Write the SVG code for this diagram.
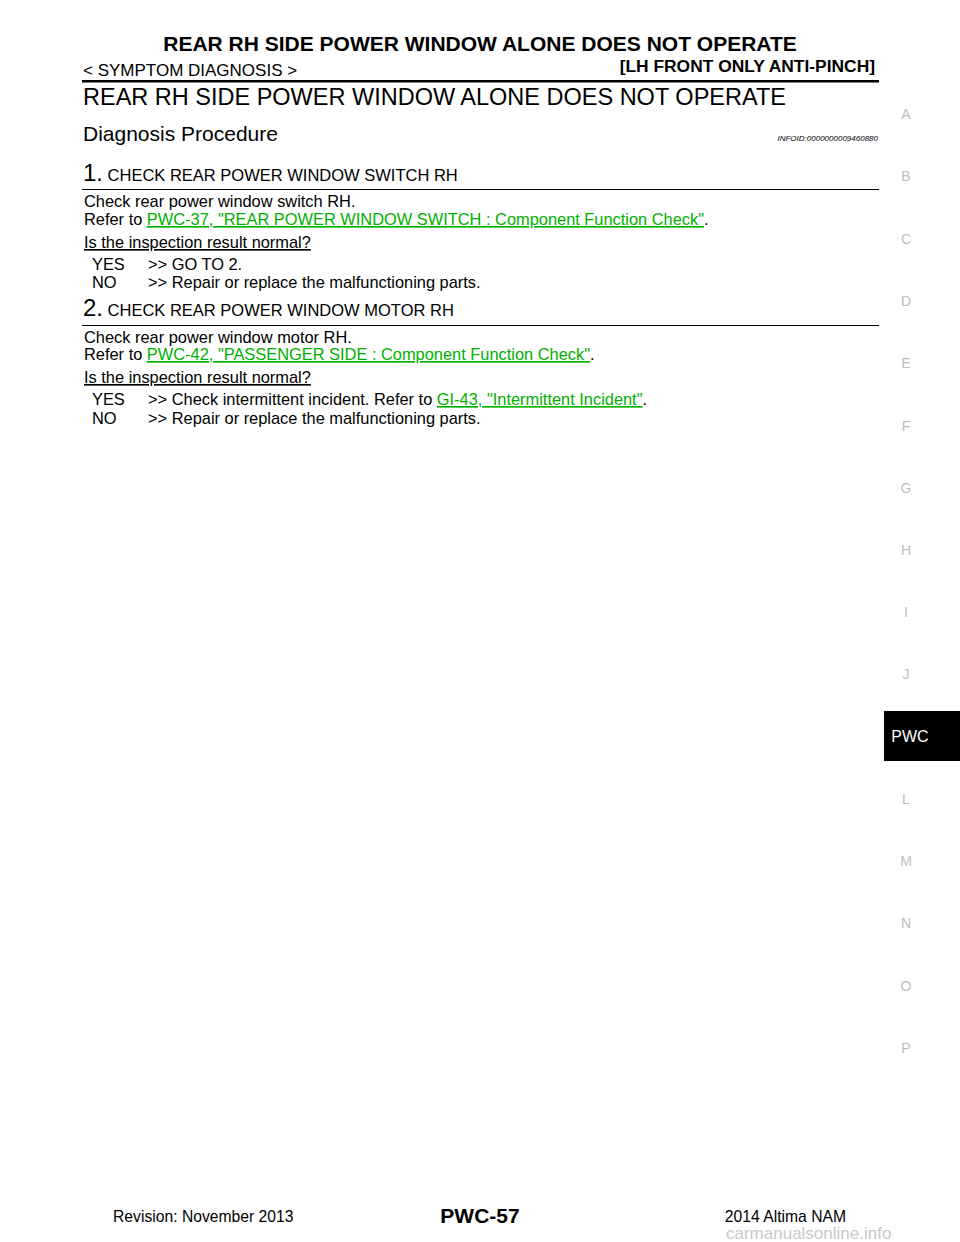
<svg xmlns="http://www.w3.org/2000/svg" width="960" height="1242" viewBox="0 0 960 1242">
<style>
text{font-family:"Liberation Sans",Arial,sans-serif;fill:#000}
.b{font-weight:bold}
.t{font-size:16.4px}
.l{fill:#00b000;text-decoration:underline}
.u{text-decoration:underline}
.side{font-size:14px;fill:#bdbdbd}
</style>
<rect width="960" height="1242" fill="#fff"/>
<g id="header">
<text x="480" y="51" text-anchor="middle" class="b" font-size="21">REAR RH SIDE POWER WINDOW ALONE DOES NOT OPERATE</text>
<text x="83" y="76" font-size="17">&lt; SYMPTOM DIAGNOSIS &gt;</text>
<text x="875" y="72" text-anchor="end" class="b" font-size="17.4">[LH FRONT ONLY ANTI-PINCH]</text>
<rect x="82" y="80" width="797" height="2.5" fill="#000"/>
<text x="83" y="105" font-size="23.5">REAR RH SIDE POWER WINDOW ALONE DOES NOT OPERATE</text>
<text x="83" y="141" font-size="21">Diagnosis Procedure</text>
<text x="878" y="141" text-anchor="end" font-size="8" font-style="italic">INFOID:0000000009460880</text>
</g>
<g id="step1">
<text x="83" y="181"><tspan font-size="24">1.</tspan><tspan font-size="16.5"> CHECK REAR POWER WINDOW SWITCH RH</tspan></text>
<rect x="82" y="189" width="797" height="1" fill="#000"/>
<text x="84" y="207" class="t">Check rear power window switch RH.</text>
<text x="84" y="225" class="t">Refer to <tspan class="l">PWC-37, "REAR POWER WINDOW SWITCH : Component Function Check"</tspan>.</text>
<text x="84" y="248" class="t u">Is the inspection result normal?</text>
<text x="92" y="270" class="t">YES</text><text x="148" y="270" class="t">&gt;&gt; GO TO 2.</text>
<text x="92" y="288" class="t">NO</text><text x="148" y="288" class="t">&gt;&gt; Repair or replace the malfunctioning parts.</text>
</g>
<g id="step2">
<text x="83" y="316"><tspan font-size="24">2.</tspan><tspan font-size="16.5"> CHECK REAR POWER WINDOW MOTOR RH</tspan></text>
<rect x="82" y="325" width="797" height="1" fill="#000"/>
<text x="84" y="343" class="t">Check rear power window motor RH.</text>
<text x="84" y="360" class="t">Refer to <tspan class="l">PWC-42, "PASSENGER SIDE : Component Function Check"</tspan>.</text>
<text x="84" y="383" class="t u">Is the inspection result normal?</text>
<text x="92" y="405" class="t">YES</text><text x="148" y="405" class="t">&gt;&gt; Check intermittent incident. Refer to <tspan class="l">GI-43, "Intermittent Incident"</tspan>.</text>
<text x="92" y="424" class="t">NO</text><text x="148" y="424" class="t">&gt;&gt; Repair or replace the malfunctioning parts.</text>
</g>
<g id="sidebar">
<text x="906" y="119" text-anchor="middle" class="side">A</text>
<text x="906" y="181" text-anchor="middle" class="side">B</text>
<text x="906" y="244" text-anchor="middle" class="side">C</text>
<text x="906" y="306" text-anchor="middle" class="side">D</text>
<text x="906" y="368" text-anchor="middle" class="side">E</text>
<text x="906" y="431" text-anchor="middle" class="side">F</text>
<text x="906" y="493" text-anchor="middle" class="side">G</text>
<text x="906" y="555" text-anchor="middle" class="side">H</text>
<text x="906" y="617" text-anchor="middle" class="side">I</text>
<text x="906" y="679" text-anchor="middle" class="side">J</text>
<rect x="884" y="711" width="76" height="50" fill="#000"/>
<text x="910" y="742" text-anchor="middle" font-size="16" style="fill:#fff">PWC</text>
<text x="906" y="804" text-anchor="middle" class="side">L</text>
<text x="906" y="866" text-anchor="middle" class="side">M</text>
<text x="906" y="928" text-anchor="middle" class="side">N</text>
<text x="906" y="991" text-anchor="middle" class="side">O</text>
<text x="906" y="1053" text-anchor="middle" class="side">P</text>
</g>
<g id="footer">
<text x="113" y="1222" font-size="15.7">Revision: November 2013</text>
<text x="480" y="1223" text-anchor="middle" class="b" font-size="21">PWC-57</text>
<text x="846" y="1222" text-anchor="end" font-size="15.7">2014 Altima NAM</text>
<text x="726" y="1239" font-size="17" style="fill:#c8c8c8">carmanualsonline.info</text>
</g>
</svg>
